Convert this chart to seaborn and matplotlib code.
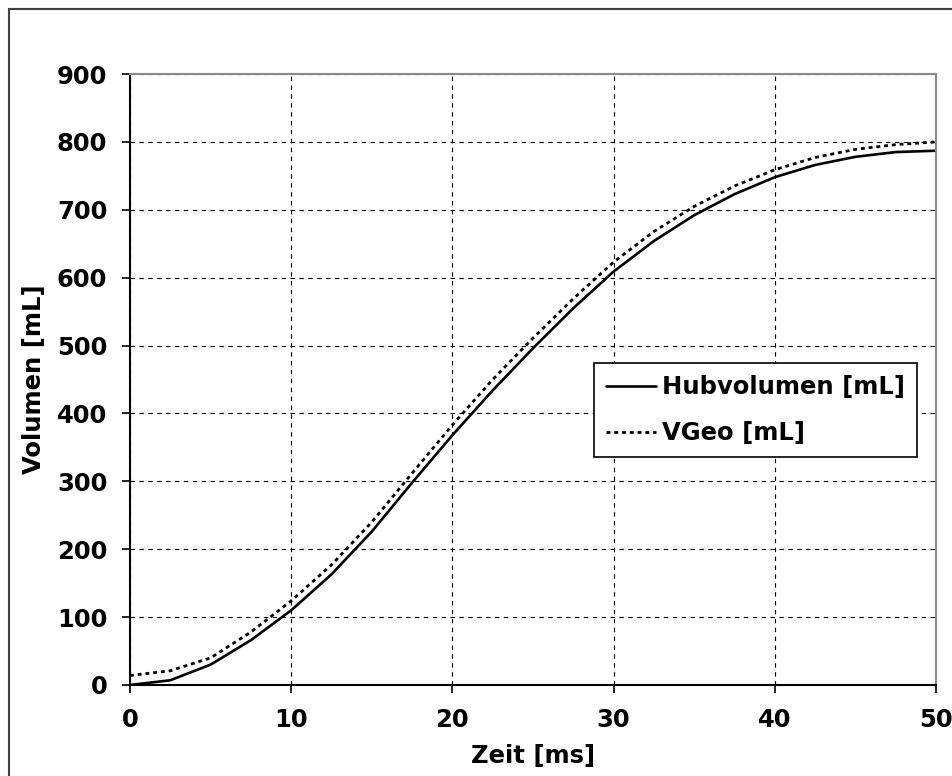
import numpy as np
import pandas as pd
import matplotlib
matplotlib.use("Agg")
import matplotlib.pyplot as plt
from matplotlib.patches import Rectangle
import seaborn as sns

# ---- data ----
zeit_ms = [0, 2.5, 5, 7.5, 10, 12.5, 15, 17.5, 20, 22.5, 25,
           27.5, 30, 32.5, 35, 37.5, 40, 42.5, 45, 47.5, 50]
hubvolumen = [0, 7, 30, 66, 110, 163, 226, 298, 368, 434, 496,
              555, 609, 654, 692, 723, 748, 766, 778, 785, 787]
vgeo = [14, 21, 40, 78, 124, 177, 240, 312, 383, 450, 511,
        569, 623, 668, 705, 735, 759, 777, 789, 796, 800]
series_names = ["Hubvolumen [mL]", "VGeo [mL]"]
x_ticks = [0, 10, 20, 30, 40, 50]
y_ticks = [0, 100, 200, 300, 400, 500, 600, 700, 800, 900]

df = pd.DataFrame({
    "Zeit": zeit_ms * 2,
    "Volumen": hubvolumen + vgeo,
    "Serie": [series_names[0]] * len(zeit_ms) + [series_names[1]] * len(zeit_ms),
})

sns.set_style("white")
plt.rcParams["font.family"] = ["DejaVu Sans"]
plt.rcParams["font.weight"] = "bold"
plt.rcParams["text.color"] = "black"
plt.rcParams["axes.labelcolor"] = "black"
plt.rcParams["xtick.color"] = "black"
plt.rcParams["ytick.color"] = "black"

FS = 17.5
fig = plt.figure(figsize=(9.52, 7.76), dpi=100)
ax = fig.add_axes([130 / 952, 91 / 776, 806 / 952, 611 / 776])

sns.lineplot(data=df[df["Serie"] == series_names[0]], x="Zeit", y="Volumen",
             ax=ax, color="black", linewidth=1.9, label=series_names[0])
sns.lineplot(data=df[df["Serie"] == series_names[1]], x="Zeit", y="Volumen",
             ax=ax, color="black", linewidth=2.0, linestyle=(0, (1.4, 1.4)),
             label=series_names[1])

ax.set_xlim(0, 50)
ax.set_ylim(0, 900)
ax.set_xticks(x_ticks)
ax.set_yticks(y_ticks)
ax.set_xticklabels([str(v) for v in x_ticks], fontsize=FS, fontweight="bold", color="black")
ax.set_yticklabels([str(v) for v in y_ticks], fontsize=FS, fontweight="bold", color="black")
ax.tick_params(axis="both", direction="out", length=5.8, width=1.2,
               color="black", pad=10.5, labelcolor="black")
ax.tick_params(bottom=True, left=True)

ax.grid(True, color="black", linewidth=0.8, linestyle=(0, (4, 4)))
ax.set_axisbelow(True)

for side in ["left", "bottom"]:
    ax.spines[side].set_color("black")
    ax.spines[side].set_linewidth(1.5)
for side in ["top", "right"]:
    ax.spines[side].set_color("#8a8a8a")
    ax.spines[side].set_linewidth(1.5)

ax.set_xlabel("Zeit [ms]", fontsize=FS, fontweight="bold", labelpad=9, color="black")
ax.set_ylabel("Volumen [mL]", fontsize=FS, fontweight="bold", labelpad=8, color="black")

leg = ax.legend(loc="upper left", bbox_to_anchor=(0.5757, 0.527),
                borderaxespad=0, fancybox=False, frameon=True,
                prop={"size": FS, "weight": "bold"},
                handlelength=2.05, handletextpad=0.25, labelspacing=0.9,
                borderpad=0.5)
leg.get_frame().set_edgecolor("black")
leg.get_frame().set_linewidth(1.2)
leg.get_frame().set_alpha(1)
for t in leg.get_texts():
    t.set_color("black")

fig.add_artist(Rectangle((9 / 952, -0.1), 2.0, 1 - 9 / 776 + 0.1,
                         transform=fig.transFigure, fill=False,
                         edgecolor="#404040", linewidth=1.5))

fig.savefig("out.png", dpi=100)
